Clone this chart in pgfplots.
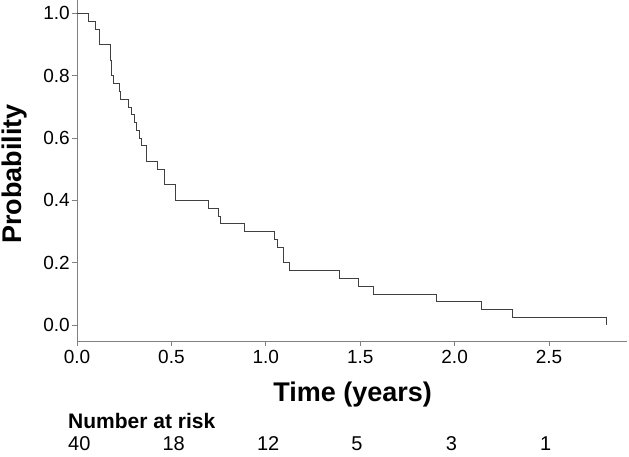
\documentclass[border=0pt]{standalone}
\usepackage{pgfplots}
\pgfplotsset{compat=1.18}
\usepackage{fontspec}
\setmainfont{Liberation Sans}
\begin{document}
\begin{tikzpicture}
\path[use as bounding box] (-77pt,-115pt) rectangle (552pt,341pt);
\begin{axis}[
  at={(0,0)}, anchor=south west,
  scale only axis, width=550pt, height=341pt,
  xmin=0, xmax=2.913, ymin=-0.051, ymax=1.043,
  axis x line*=bottom, axis y line*=left,
  axis line style={color=gray, line width=0.8pt},
  xtick={0,0.5,1,1.5,2,2.5},
  ytick={0,0.2,0.4,0.6,0.8,1},
  /pgf/number format/fixed, /pgf/number format/fixed zerofill, /pgf/number format/precision=1,
  /pgf/number format/assume math mode=true,
  tick align=outside, major tick length=5pt,
  tick style={color=gray, line width=0.8pt},
  ticklabel style={font=\fontsize{19}{22}\selectfont, text=black},
  xticklabel style={inner ysep=4pt},
  yticklabel style={inner xsep=2pt},
  xlabel={Time (years)}, ylabel={Probability},
  label style={font=\bfseries\fontsize{27}{30}\selectfont},
  xlabel style={at={(axis description cs:0.501,-0.156)}, anchor=center},
  ylabel style={at={(axis description cs:-0.113,0.49)}, anchor=center},
  clip=false,
]
\addplot[const plot, color=black!75, line width=0.8pt] coordinates {
(0,1)
(0.060,0.975)
(0.095,0.95)
(0.118,0.9)
(0.175,0.85)
(0.183,0.8)
(0.192,0.775)
(0.224,0.75)
(0.231,0.725)
(0.272,0.7)
(0.289,0.675)
(0.302,0.65)
(0.312,0.625)
(0.333,0.6)
(0.342,0.575)
(0.369,0.525)
(0.425,0.5)
(0.462,0.45)
(0.519,0.4)
(0.695,0.375)
(0.751,0.35)
(0.761,0.325)
(0.885,0.3)
(1.044,0.275)
(1.060,0.25)
(1.095,0.2)
(1.124,0.175)
(1.388,0.15)
(1.490,0.125)
(1.571,0.1)
(1.903,0.075)
(2.141,0.05)
(2.305,0.025)
(2.806,0)
};
\end{axis}
\node[anchor=base west, inner sep=0, font=\bfseries\fontsize{21}{24}\selectfont] at (-9pt,-87pt) {Number at risk};
\begin{scope}[every node/.style={anchor=base west, inner sep=0, font=\fontsize{20}{24}\selectfont}]
\node at (-9pt,-109pt) {40};
\node at (85.4pt,-109pt) {18};
\node at (179.8pt,-109pt) {12};
\node at (274.2pt,-109pt) {5};
\node at (368.6pt,-109pt) {3};
\node at (463pt,-109pt) {1};
\end{scope}
\end{tikzpicture}
\end{document}
